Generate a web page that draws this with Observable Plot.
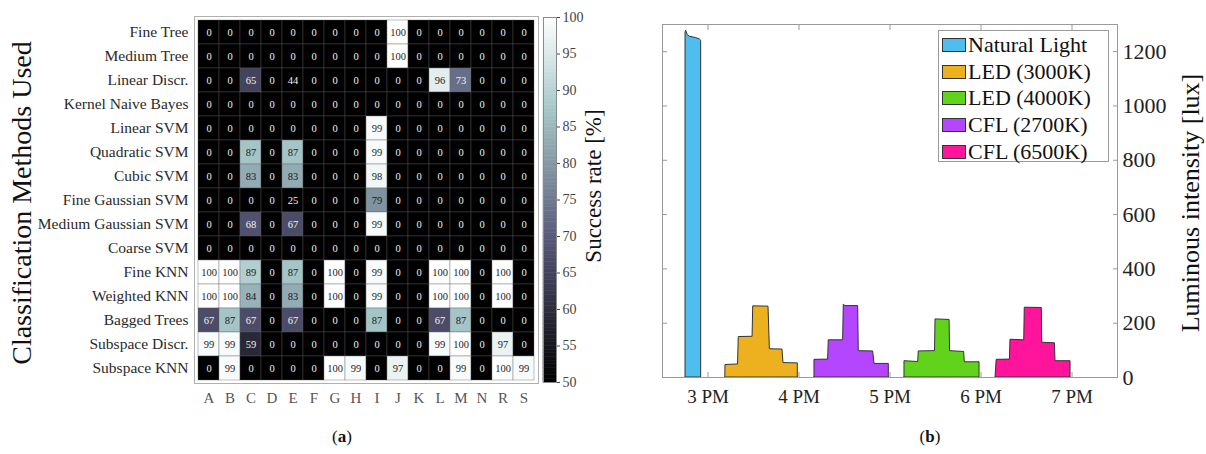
<!DOCTYPE html>
<html>
<head>
<meta charset="utf-8">
<script src="https://cdn.jsdelivr.net/npm/d3@7"></script>
<script src="https://cdn.jsdelivr.net/npm/@observablehq/plot@0.6"></script>
<style>
  html, body { margin: 0; padding: 0; background: #fff; }
  body { width: 1206px; height: 454px; overflow: hidden; position: relative; font-family: "Liberation Serif", "Times New Roman", serif; color: #111; }
  .panel { position: absolute; top: 0; }
  #legend { position: absolute; left: 938px; top: 30px; width: 171px; height: 132px; border: 1px solid #9a9a9a; background: #fff; box-sizing: border-box; padding-top: 1px; }
  .entry { height: 26.6px; display: flex; align-items: center; font-size: 22px; line-height: 22px; white-space: nowrap; }
  .sw { width: 22px; height: 12px; border: 1px solid #333; margin-left: 3px; margin-right: 2px; flex: none; }
  .cap { position: absolute; top: 427px; font-size: 17px; transform: translateX(-50%); }
</style>
</head>
<body>
<div id="heat" class="panel" style="left:0px"></div>
<div id="cbar" class="panel" style="left:530px"></div>
<div id="lux" class="panel" style="left:640px"></div>
<div id="legend"></div>
<div class="cap" style="left:342px">(<b>a</b>)</div>
<div class="cap" style="left:930px">(<b>b</b>)</div>
<script>
// ---------- (a) heatmap data ----------
const methods = ["Fine Tree","Medium Tree","Linear Discr.","Kernel Naive Bayes","Linear SVM","Quadratic SVM","Cubic SVM","Fine Gaussian SVM","Medium Gaussian SVM","Coarse SVM","Fine KNN","Weighted KNN","Bagged Trees","Subspace Discr.","Subspace KNN"];
const classes = ["A","B","C","D","E","F","G","H","I","J","K","L","M","N","R","S"];
const successRates = [
  [0,0,0,0,0,0,0,0,0,100,0,0,0,0,0,0],
  [0,0,0,0,0,0,0,0,0,100,0,0,0,0,0,0],
  [0,0,65,0,44,0,0,0,0,0,0,96,73,0,0,0],
  [0,0,0,0,0,0,0,0,0,0,0,0,0,0,0,0],
  [0,0,0,0,0,0,0,0,99,0,0,0,0,0,0,0],
  [0,0,87,0,87,0,0,0,99,0,0,0,0,0,0,0],
  [0,0,83,0,83,0,0,0,98,0,0,0,0,0,0,0],
  [0,0,0,0,25,0,0,0,79,0,0,0,0,0,0,0],
  [0,0,68,0,67,0,0,0,99,0,0,0,0,0,0,0],
  [0,0,0,0,0,0,0,0,0,0,0,0,0,0,0,0],
  [100,100,89,0,87,0,100,0,99,0,0,100,100,0,100,0],
  [100,100,84,0,83,0,100,0,99,0,0,100,100,0,100,0],
  [67,87,67,0,67,0,0,0,87,0,0,67,87,0,0,0],
  [99,99,59,0,0,0,0,0,0,0,0,99,100,0,97,0],
  [0,99,0,0,0,0,100,99,0,97,0,0,99,0,100,99]
];
const colorTicks = [50,55,60,65,70,75,80,85,90,95,100];

// ---------- (b) luminous intensity data ----------
const seriesNames = ["Natural Light","LED (3000K)","LED (4000K)","CFL (2700K)","CFL (6500K)"];
const seriesColors = ["#4DBEEE","#EDB120","#62D31B","#B446FF","#FF149B"];
const naturalHour = [2.753,2.753,2.760,2.775,2.800,2.870,2.910,2.925,2.925];
const naturalLux  = [0,1270,1277,1262,1255,1250,1245,1240,0];
const led3000Hour = [3.190,3.192,3.330,3.338,3.490,3.497,3.665,3.680,3.818,3.830,3.987,3.987];
const led3000Lux  = [0,46,48,149,150,262,261,104,103,53,52,0];
const led4000Hour = [5.159,5.159,5.310,5.316,5.495,5.500,5.655,5.660,5.815,5.822,5.984,5.984];
const led4000Lux  = [0,60,57,96,97,214,212,97,94,56,56,0];
const cfl2700Hour = [4.170,4.170,4.320,4.327,4.485,4.492,4.510,4.650,4.657,4.815,4.830,4.987,4.987];
const cfl2700Lux  = [0,65,66,137,137,268,263,263,97,96,50,50,0];
const cfl6500Hour = [6.160,6.172,6.318,6.324,6.475,6.481,6.668,6.673,6.812,6.819,6.984,6.984];
const cfl6500Lux  = [0,65,66,139,137,257,256,128,126,60,60,0];
const hourTicks = [3,4,5,6,7];
const luxTicks = [0,200,400,600,800,1000,1200];

// MATLAB "bone" colormap
function bone(t) {
  const c = v => Math.max(0, Math.min(1, v));
  const r = (7 * t + c((t - 0.75) / 0.25)) / 8;
  const g = (7 * t + c((t - 0.375) / 0.375)) / 8;
  const b = (7 * t + c(t / 0.375)) / 8;
  return d3.rgb(r * 255, g * 255, b * 255).formatHex();
}

const serif = '"Liberation Serif", "Times New Roman", serif';
const cells = methods.flatMap((m, i) => classes.map((c, j) => ({method: m, cls: c, value: successRates[i][j]})));
const colorScale = {type: "linear", domain: [50, 100], clamp: true, interpolate: bone};

const heat = Plot.plot({
  width: 620, height: 420,
  marginLeft: 194, marginRight: 82, marginTop: 16, marginBottom: 37,
  style: {fontFamily: serif, background: "transparent", color: "#333"},
  x: {domain: classes, padding: 0, label: null},
  y: {domain: methods, padding: 0, label: null},
  color: colorScale,
  marks: [
    Plot.cell(cells, {x: "cls", y: "method", fill: "value", stroke: "#606060", strokeOpacity: 0.55, strokeWidth: 0.7}),
    Plot.text(cells.filter(d => d.value < 76), {x: "cls", y: "method", text: d => String(d.value), fill: "#f2f2f2", fontSize: 10.5}),
    Plot.text(cells.filter(d => d.value >= 76), {x: "cls", y: "method", text: d => String(d.value), fill: "#1a1a1a", fontSize: 10.5}),
    Plot.frame({stroke: "#b0b0b0"}),
    Plot.axisY({tickSize: 0, tickPadding: 6, fontSize: 15.5, color: "#2a2a2a", label: null}),
    Plot.axisX({anchor: "bottom", tickSize: 0, tickPadding: 9, fontSize: 15, color: "#555", label: null}),
    Plot.text(["Classification Methods Used"], {frameAnchor: "left", textAnchor: "middle", lineAnchor: "middle", text: d => d, rotate: -90, dx: -172, dy: 3, fontSize: 28, fill: "#111"})
  ]
});
document.getElementById("heat").appendChild(heat);

const ramp = d3.range(50, 100, 0.5);
const cbar = Plot.plot({
  width: 90, height: 420,
  marginLeft: 13, marginRight: 64, marginTop: 17, marginBottom: 38,
  style: {fontFamily: serif, background: "transparent", color: "#333"},
  x: {axis: null},
  y: {domain: [50, 100], label: null, axis: null},
  color: colorScale,
  marks: [
    Plot.rect(ramp, {y1: d => d, y2: d => d + 0.5, fill: d => d + 0.25, stroke: d => d + 0.25, strokeWidth: 0.5}),
    Plot.frame({stroke: "#8a8a8a"}),
    Plot.axisY({anchor: "right", ticks: colorTicks, tickSize: 3, tickPadding: 3, fontSize: 14, color: "#444", label: null}),
    Plot.text(["Success rate [%]"], {frameAnchor: "right", textAnchor: "middle", lineAnchor: "middle", text: d => d, rotate: -90, dx: 37, dy: -14, fontSize: 23, fill: "#111"})
  ]
});
document.getElementById("cbar").appendChild(cbar);

const hourArrays = [naturalHour, led3000Hour, led4000Hour, cfl2700Hour, cfl6500Hour];
const luxArrays = [naturalLux, led3000Lux, led4000Lux, cfl2700Lux, cfl6500Lux];
const luxData = seriesNames.flatMap((s, k) => hourArrays[k].map((h, i) => ({series: s, hour: h, lux: luxArrays[k][i]})));

const lux = Plot.plot({
  width: 566, height: 420,
  marginLeft: 22, marginRight: 89, marginTop: 24, marginBottom: 43,
  style: {fontFamily: serif, background: "transparent", color: "#333"},
  x: {domain: [2.5, 7.5], label: null},
  y: {domain: [0, 1300], label: null},
  color: {domain: seriesNames, range: seriesColors},
  marks: [
    Plot.areaY(luxData, {x: "hour", y1: 0, y2: "lux", z: "series", fill: "series", stroke: "#333", strokeWidth: 1}),
    Plot.frame({stroke: "#9a9a9a"}),
    Plot.axisX({anchor: "bottom", ticks: hourTicks, tickSize: 0, tickPadding: 12, fontSize: 19, color: "#222", tickFormat: d => `${d} PM`, label: null}),
    Plot.axisX({anchor: "bottom", ticks: hourTicks, tickSize: -5, tickFormat: () => "", color: "#9a9a9a", label: null}),
    Plot.axisX({anchor: "top", ticks: hourTicks, tickSize: -5, tickFormat: () => "", color: "#9a9a9a", label: null}),
    Plot.axisY({anchor: "right", ticks: luxTicks, tickSize: 0, tickPadding: 5, fontSize: 22, color: "#222", tickFormat: d => String(d), label: null}),
    Plot.axisY({anchor: "right", ticks: luxTicks, tickSize: -5, tickFormat: () => "", color: "#9a9a9a", label: null}),
    Plot.axisY({anchor: "left", ticks: luxTicks, tickSize: -5, tickFormat: () => "", color: "#9a9a9a", label: null}),
    Plot.text(["Luminous intensity [lux]"], {frameAnchor: "right", textAnchor: "middle", lineAnchor: "middle", text: d => d, rotate: -90, dx: 73, dy: 2, fontSize: 26, fill: "#111"})
  ]
});
document.getElementById("lux").appendChild(lux);

// legend
const legend = d3.select("#legend");
seriesNames.forEach((s, k) => {
  const e = legend.append("div").attr("class", "entry");
  e.append("div").attr("class", "sw").style("background", seriesColors[k]);
  e.append("span").text(s);
});
</script>
</body>
</html>
